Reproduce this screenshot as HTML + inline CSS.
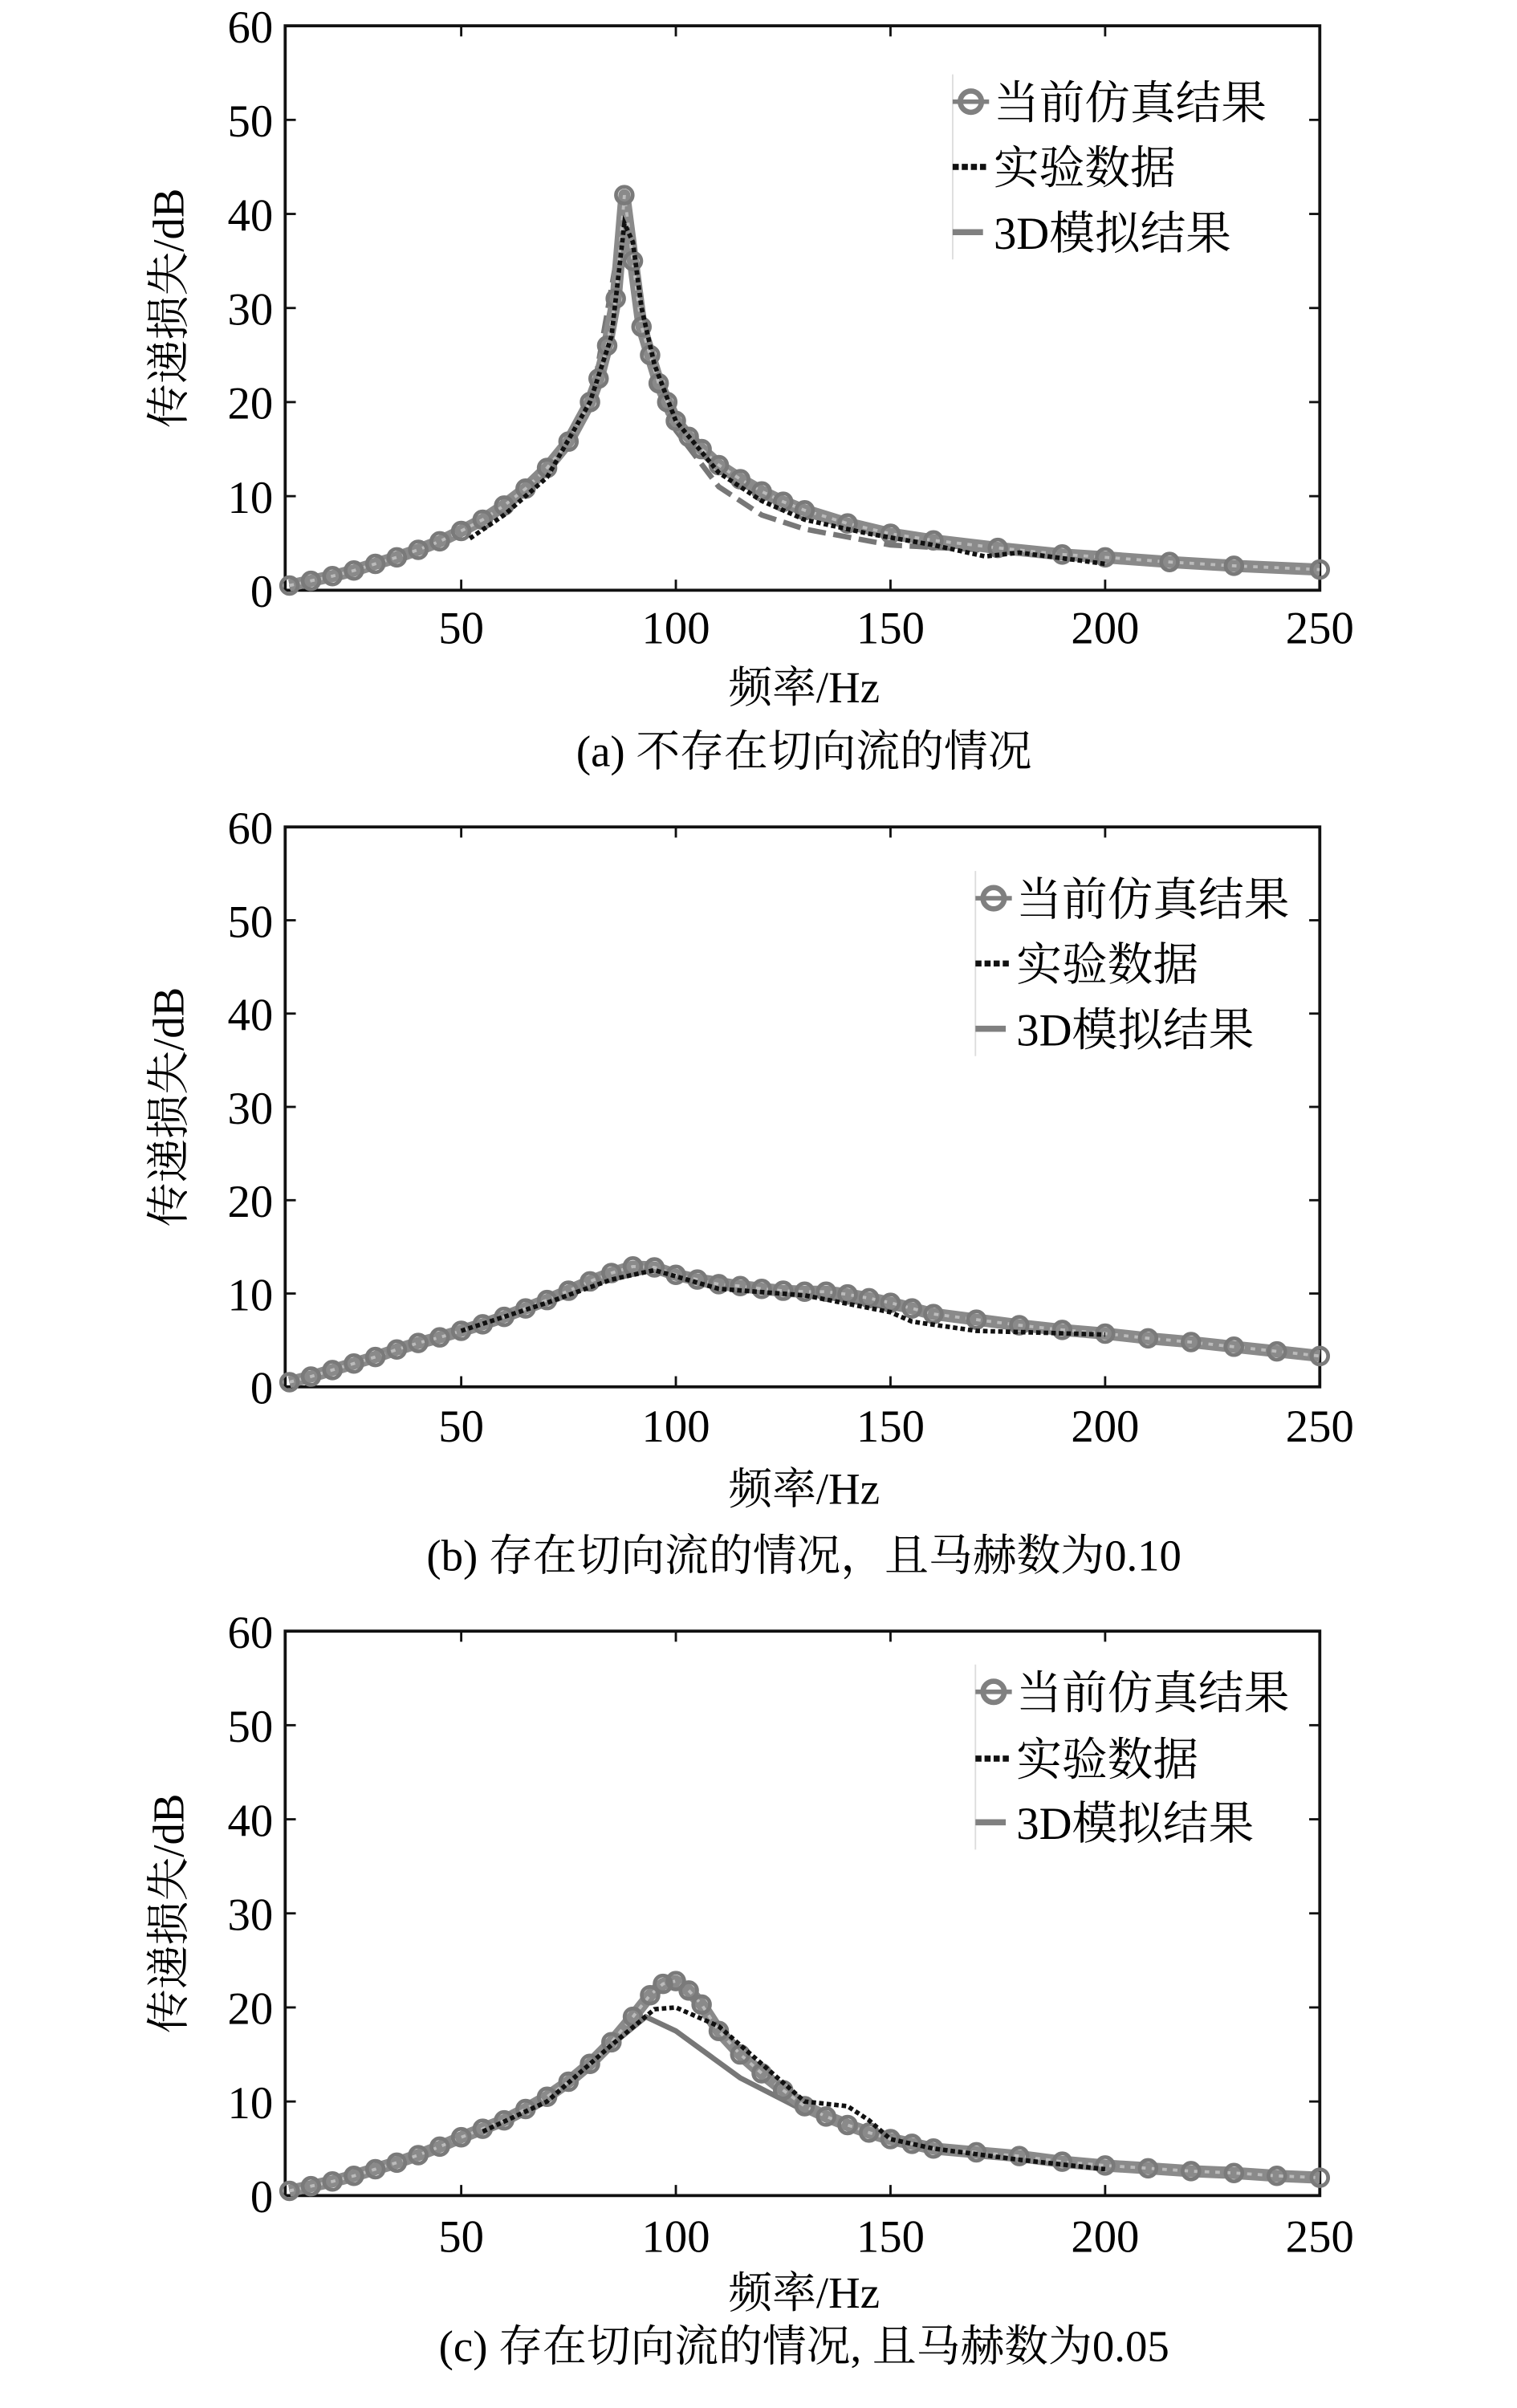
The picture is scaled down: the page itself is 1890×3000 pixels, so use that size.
<!DOCTYPE html>
<html><head><meta charset="utf-8"><style>
html,body{margin:0;padding:0;background:#fff;}
svg{display:block;}
text{font-family:"Liberation Serif","Noto Serif CJK SC","Noto Sans CJK SC",serif;fill:#000;}
</style></head><body>
<svg id="fig" width="1890" height="3000" viewBox="0 0 1000 1587" preserveAspectRatio="none" xmlns="http://www.w3.org/2000/svg"></svg>
<script>
// ---- data ----
const xTicks = [50, 100, 150, 200, 250];
const yTicks = [0, 10, 20, 30, 40, 50, 60];
const captions = ["(a) 不存在切向流的情况", "(b) 存在切向流的情况，且马赫数为0.10", "(c) 存在切向流的情况, 且马赫数为0.05"];
const legendLabels = ["当前仿真结果", "实验数据", "3D模拟结果"];

const simA_f = [10,15,20,25,30,35,40,45,50,55,60,65,70,75,80,82,84,86,88,90,92,94,96,98,100,103,106,110,115,120,125,130,140,150,160,175,190,200,215,230,250];
const simA_v = [0.5,1,1.5,2.1,2.8,3.5,4.3,5.2,6.3,7.5,9,10.8,13,15.8,20,22.5,26,31,42,35,28,25,22,20,18,16.3,15,13.3,11.8,10.5,9.4,8.5,7.1,6,5.3,4.5,3.8,3.5,3,2.6,2.2];
const expA_f = [52,60,70,80,85,88,90,92,95,100,110,120,130,145,160,172,180,190,200];
const expA_v = [5.5,8,12,20,27,39,37,30,24,18,12.5,9.5,7.5,6,4.8,3.6,4,3.4,2.8];
const tdA_f = [10,30,50,70,80,88,95,100,110,120,130,150,175,200];
const tdA_v = [0.3,2.6,6,13,19,40,22,17,11,8,6.5,4.8,4.2,3.3];

const simB_f = [10,15,20,25,30,35,40,45,50,55,60,65,70,75,80,85,90,95,100,105,110,115,120,125,130,135,140,145,150,155,160,170,180,190,200,210,220,230,240,250];
const simB_v = [0.5,1.1,1.8,2.5,3.2,4,4.7,5.3,6,6.7,7.5,8.4,9.3,10.3,11.3,12.2,12.9,12.8,12,11.5,11,10.8,10.5,10.3,10.2,10.2,9.9,9.5,9,8.4,7.8,7.2,6.6,6.1,5.7,5.2,4.8,4.3,3.8,3.3];
const expB_f = [50,70,85,95,110,130,150,155,170,185,200];
const expB_v = [6,9,11.5,12.5,10.5,9.8,8,7,6,5.8,5.6];
const tdB_f = [10,50,80,95,110,130,150,175,200];
const tdB_v = [0.4,6,11,12.6,11.5,10,8.5,6.8,5.8];

const simC_f = [10,15,20,25,30,35,40,45,50,55,60,65,70,75,80,85,90,94,97,100,103,106,110,115,120,125,130,135,140,145,150,155,160,170,180,190,200,210,220,230,240,250];
const simC_v = [0.5,1,1.5,2.1,2.8,3.5,4.3,5.2,6.2,7.1,8,9.2,10.5,12.1,14,16.3,19,21.3,22.5,22.8,21.8,20.3,17.5,15,13,11.2,9.5,8.4,7.5,6.7,6,5.5,5,4.6,4.2,3.6,3.2,2.9,2.6,2.4,2.1,1.9];
const expC_f = [55,70,85,95,100,110,120,130,140,145,150,160,180,200];
const expC_v = [6.8,10,16,19.8,20,18,14,10,9.5,8,6,5,3.8,2.8];
const tdC_f = [10,50,70,85,93,100,115,130,140,155,175,200];
const tdC_v = [0.4,6,10.5,16,19,17.5,12.5,9,7.5,5.5,4.2,3.3];

const panels = [
  {top:17, bottom:389, tickY:413, titleY:452, capY:494, legX:640, legY:[67,110,153], sim:[simA_f,simA_v], exp:[expA_f,expA_v], td:[tdA_f,tdA_v], dash:true},
  {top:545, bottom:914, tickY:939, titleY:980, capY:1024, legX:655, legY:[592,635,678], sim:[simB_f,simB_v], exp:[expB_f,expB_v], td:[tdB_f,tdB_v], dash:false},
  {top:1075, bottom:1447, tickY:1473, titleY:1510, capY:1545, legX:655, legY:[1115,1159,1201], sim:[simC_f,simC_v], exp:[expC_f,expC_v], td:[tdC_f,tdC_v], dash:false}
];
const X0 = 188, X1 = 870, FMIN = 9, FMAX = 250;
const svg = document.getElementById('fig');
const NS = 'http://www.w3.org/2000/svg';
function mk(tag, attrs, parent){const e=document.createElementNS(NS,tag);for(const k in attrs)e.setAttribute(k,attrs[k]);(parent||svg).appendChild(e);return e;}
function xs(f){return X0+(f-FMIN)/(FMAX-FMIN)*(X1-X0);}

panels.forEach((p,i)=>{
  const g = mk('g',{});
  
  
  const ys = v => p.bottom-(v/60)*(p.bottom-p.top);
  const pts = (fa,va) => fa.map((f,k)=>xs(f).toFixed(1)+','+ys(va[k]).toFixed(1)).join(' ');
  const box = mk('rect',{x:X0,y:p.top,width:X1-X0,height:p.bottom-p.top,fill:'none',stroke:'#111','stroke-width':2},g);
  
  
  xTicks.forEach(t=>{
    const x=xs(t);
    mk('line',{x1:x,y1:p.bottom,x2:x,y2:p.bottom-7,stroke:'#111','stroke-width':1.5},g);
    mk('line',{x1:x,y1:p.top,x2:x,y2:p.top+7,stroke:'#111','stroke-width':1.5},g);
    const tl = mk('text',{x:x,y:p.tickY+11,'text-anchor':'middle','font-size':30},g);
    tl.textContent=t;
    
    
  });
  yTicks.forEach(t=>{
    const y=ys(t);
    mk('line',{x1:X0,y1:y,x2:X0+7,y2:y,stroke:'#111','stroke-width':1.5},g);
    mk('line',{x1:X1,y1:y,x2:X1-7,y2:y,stroke:'#111','stroke-width':1.5},g);
    const tl = mk('text',{x:X0-8,y:y+11,'text-anchor':'end','font-size':30},g);
    tl.textContent=t;
    
    
  });
  const cy=(p.top+p.bottom)/2;
  const yt = mk('text',{x:0,y:0,'text-anchor':'middle','font-size':29,transform:`translate(121,${cy}) rotate(-90)`},g);
  yt.textContent='传递损失/dB';
  
  
  const xt = mk('text',{x:530,y:p.titleY+11,'text-anchor':'middle','font-size':29},g);
  xt.textContent='频率/Hz';
  
  
  const cap = mk('text',{x:530,y:p.capY+11,'text-anchor':'middle','font-size':29},g);
  cap.textContent=captions[i];
  
  
  const td = mk('polyline',{points:pts(p.td[0],p.td[1]),fill:'none',stroke:'#777','stroke-width':3.5,'stroke-dasharray':p.dash?'12 5':'none'},g);
  
  
  const sim = mk('polyline',{points:pts(p.sim[0],p.sim[1]),fill:'none',stroke:'#8a8a8a','stroke-width':8,'stroke-linejoin':'round'},g);
  
  
  const simIn = mk('polyline',{points:pts(p.sim[0],p.sim[1]),fill:'none',stroke:'#bbb','stroke-width':2,'stroke-dasharray':'3 4'},g);
  
  
  p.sim[0].forEach((f,k)=>{
    const c = mk('circle',{cx:xs(f),cy:ys(p.sim[1][k]),r:5.5,fill:'none',stroke:'#7a7a7a','stroke-width':2.5},g);
    
    
  });
  const ex = mk('polyline',{points:pts(p.exp[0],p.exp[1]),fill:'none',stroke:'#111','stroke-width':3,'stroke-dasharray':'3 2'},g);
  
  
  const lg = mk('g',{},g);
  
  
  const L=p.legX;
  mk('line',{x1:L-12,y1:p.legY[0]-18,x2:L-12,y2:p.legY[2]+18,stroke:'#ddd','stroke-width':1},lg);
  mk('line',{x1:L-12,y1:p.legY[0],x2:L+12,y2:p.legY[0],stroke:'#808080','stroke-width':3},lg);
  mk('circle',{cx:L,cy:p.legY[0],r:7,fill:'none',stroke:'#808080','stroke-width':3.5},lg);
  mk('line',{x1:L-12,y1:p.legY[1],x2:L+12,y2:p.legY[1],stroke:'#111','stroke-width':4,'stroke-dasharray':'4 2'},lg);
  mk('line',{x1:L-12,y1:p.legY[2],x2:L+8,y2:p.legY[2],stroke:'#808080','stroke-width':4},lg);
  legendLabels.forEach((s,k)=>{
    const t = mk('text',{x:L+15,y:p.legY[k]+11,'font-size':30},lg);
    t.textContent=s;
    
    
  });
});
</script>
</body></html>
